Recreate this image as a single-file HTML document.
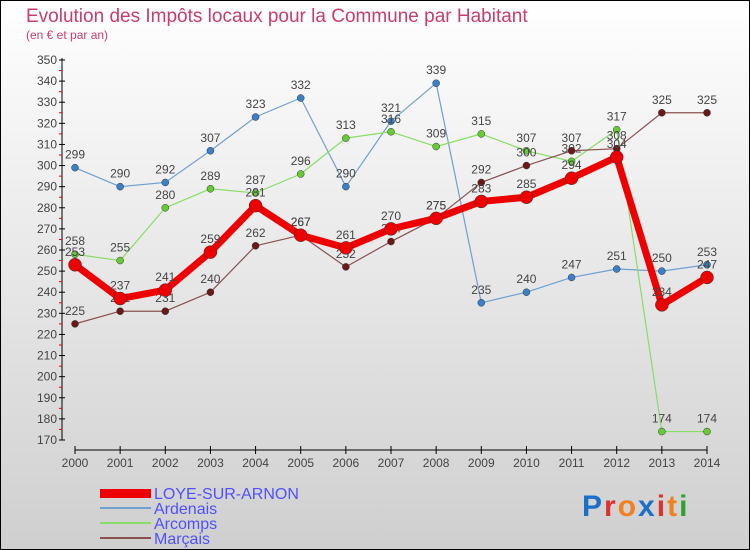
<!DOCTYPE html>
<html><head><meta charset="utf-8"><style>
body{margin:0;width:750px;height:550px;overflow:hidden;font-family:"Liberation Sans",sans-serif}
svg{display:block}
</style></head><body>
<svg id="chart" width="750" height="550">
<defs><linearGradient id="bg" x1="0" y1="0" x2="0" y2="1"><stop offset="0" stop-color="#ffffff"/><stop offset="1" stop-color="#cfcfcf"/></linearGradient></defs>
<rect x="0.5" y="0.5" width="749" height="549" fill="url(#bg)" stroke="#000"/>
<text x="26" y="22" font-size="19" fill="#c83c6e" font-weight="normal">Evolution des Impôts locaux pour la Commune par Habitant</text>
<text x="26" y="39" font-size="12" fill="#c83c6e">(en € et par an)</text>
<g id="axes"></g><g id="series"></g>
<g font-size="16" fill="#5050ff">
<rect x="100" y="489" width="51" height="9" fill="#e00"/>
<text x="154" y="499">LOYE-SUR-ARNON</text>
<line x1="100" y1="508" x2="151" y2="508" stroke="#6fa0d0" stroke-width="2"/>
<text x="154" y="514">Ardenais</text>
<line x1="100" y1="523" x2="151" y2="523" stroke="#88dd66" stroke-width="2"/>
<text x="154" y="529">Arcomps</text>
<line x1="100" y1="538" x2="151" y2="538" stroke="#8a5050" stroke-width="2"/>
<text x="154" y="544">Marçais</text>
</g>
<g font-size="30" font-weight="bold">
<text x="582" y="516" letter-spacing="2"><tspan fill="#1a70c8">P</tspan><tspan fill="#e03030">r</tspan><tspan fill="#f08020">o</tspan><tspan fill="#1a70c8">x</tspan><tspan fill="#e03030">i</tspan><tspan fill="#f08020">t</tspan><tspan fill="#30a030">i</tspan></text>
</g>
</svg>
<script>
const years=[2000,2001,2002,2003,2004,2005,2006,2007,2008,2009,2010,2011,2012,2013,2014];
const loye=[253,237,241,259,281,267,261,270,275,283,285,294,304,234,247];
const ardenais=[299,290,292,307,323,332,290,321,339,235,240,247,251,250,253];
const arcomps=[258,255,280,289,287,296,313,316,309,315,307,302,317,174,174];
const marcais=[225,231,231,240,262,267,252,264,275,292,300,307,308,325,325];
const yTicks=[170,180,190,200,210,220,230,240,250,260,270,280,290,300,310,320,330,340,350];
const NS="http://www.w3.org/2000/svg";
const X=i=>75+i*(707-75)/(years.length-1);
const Y=v=>440-(v-170)*(380/180);
function mk(t,a,p){const e=document.createElementNS(NS,t);for(const k in a)e.setAttribute(k,a[k]);p.appendChild(e);return e;}
const ax=document.getElementById('axes');
let l=mk('line',{x1:62,y1:58,x2:62,y2:440,stroke:'#000'},ax);


l=mk('line',{x1:75,y1:450,x2:707,y2:450,stroke:'#000'},ax);


yTicks.forEach((v,i)=>{
 mk('line',{x1:59,y1:Y(v),x2:65,y2:Y(v),stroke:'#000'},ax);
 if(i<yTicks.length-1)mk('line',{x1:59,y1:Y(v+5),x2:62,y2:Y(v+5),stroke:'#e00'},ax);
 const t=mk('text',{x:57,y:Y(v)+4,'text-anchor':'end','font-size':12,fill:'#444'},ax);t.textContent=v;
 
 
});
years.forEach((y,i)=>{
 mk('line',{x1:X(i),y1:446,x2:X(i),y2:454,stroke:'#000'},ax);
 const t=mk('text',{x:X(i),y:467,'text-anchor':'middle','font-size':12,fill:'#444'},ax);t.textContent=y;
 
 
});
const sg=document.getElementById('series');
function series(data,name,color,dot,w,r){
 const g=mk('g',{},sg);
 
 
 const pl=mk('polyline',{points:data.map((v,i)=>X(i)+','+Y(v)).join(' '),fill:'none',stroke:color,'stroke-width':w,'stroke-linejoin':'round'},g);
 
 
 data.forEach((v,i)=>{
  const c=mk('circle',{cx:X(i),cy:Y(v),r:r,fill:dot,stroke:'#333','stroke-width':0.5},g);
  
  
  const t=mk('text',{x:X(i),y:Y(v)-9,'text-anchor':'middle','font-size':12,fill:'#444'},g);t.textContent=v;
  
  
 });
}
series(ardenais,'ardenais','#6fa0d0','#3a80c8',1.2,3.5);
series(arcomps,'arcomps','#88dd66','#66cc33',1.2,3.5);
series(marcais,'marcais','#8a5050','#6a1818',1.2,3.5);
series(loye,'loye','#ee0000','#ee0000',7,6.5);
</script>
</body></html>
